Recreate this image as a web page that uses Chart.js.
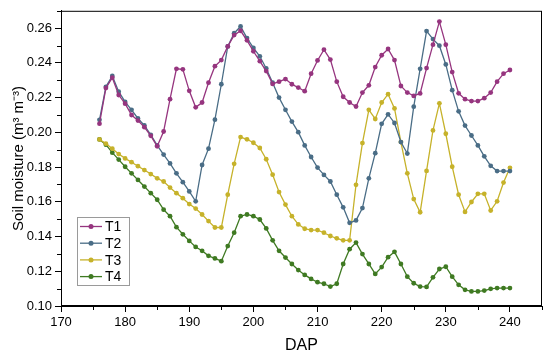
<!DOCTYPE html>
<html>
<head>
<meta charset="utf-8">
<script src="https://cdn.jsdelivr.net/npm/chart.js@4.4.0/dist/chart.umd.min.js"></script>
<style>
  html, body { margin: 0; padding: 0; background: #fff; }
</style>
</head>
<body>
<canvas id="moistureChart" width="550" height="358"></canvas>
<script>
// DAP (days after planting), one reading a day
const days = [
  176, 177, 178, 179, 180, 181, 182, 183, 184, 185, 186, 187, 188, 189, 190,
  191, 192, 193, 194, 195, 196, 197, 198, 199, 200, 201, 202, 203, 204, 205,
  206, 207, 208, 209, 210, 211, 212, 213, 214, 215, 216, 217, 218, 219, 220,
  221, 222, 223, 224, 225, 226, 227, 228, 229, 230, 231, 232, 233, 234, 235,
  236, 237, 238, 239, 240,
];

const t1 = [
  0.205, 0.2255, 0.2315, 0.2215, 0.2165, 0.210, 0.2068, 0.203, 0.198, 0.192, 0.2005, 0.2191, 0.2366, 0.2363, 0.2239,
  0.2144, 0.2172, 0.2286, 0.2381, 0.2416, 0.2495, 0.256, 0.2585, 0.253, 0.2467, 0.241, 0.2353, 0.2279, 0.2292, 0.2307,
  0.2277, 0.2258, 0.2237, 0.2338, 0.2414, 0.2476, 0.2419, 0.2292, 0.2205, 0.2172, 0.2149, 0.2229, 0.2271, 0.2376, 0.2444,
  0.248, 0.2416, 0.2267, 0.2229, 0.221, 0.2224, 0.237, 0.2505, 0.2638, 0.2505, 0.2347, 0.2225, 0.2191, 0.218, 0.218,
  0.2197, 0.2229, 0.2292, 0.2338, 0.2359,
];
const t2 = [
  0.2072, 0.2262, 0.2325, 0.2234, 0.2175, 0.213, 0.208, 0.204, 0.1986, 0.1925, 0.1872, 0.1821, 0.1764, 0.1713, 0.166,
  0.1603, 0.1812, 0.1906, 0.2073, 0.2277, 0.2495, 0.2571, 0.261, 0.2543, 0.2486, 0.2438, 0.2368, 0.2286, 0.22, 0.213,
  0.2062, 0.2001, 0.1925, 0.1858, 0.1797, 0.1755, 0.1717, 0.1641, 0.1568, 0.1479, 0.1493, 0.1564, 0.1735, 0.188, 0.2049,
  0.2104, 0.2054, 0.1944, 0.1878, 0.2148, 0.2366, 0.2583, 0.2537, 0.2499, 0.2391, 0.2243, 0.2121, 0.2039, 0.1982, 0.1925,
  0.1862, 0.1807, 0.1777, 0.1777, 0.1777,
];
const t3 = [
  0.1959, 0.1935, 0.1906, 0.1875, 0.185, 0.1828, 0.1805, 0.1783, 0.176, 0.1735, 0.1717, 0.1682, 0.165, 0.1621, 0.1587,
  0.1561, 0.1527, 0.1489, 0.1452, 0.1452, 0.1641, 0.1819, 0.1973, 0.196, 0.194, 0.191, 0.1845, 0.1756, 0.1656, 0.1584,
  0.1517, 0.147, 0.1445, 0.1437, 0.1437, 0.1422, 0.1403, 0.139, 0.1378, 0.1378, 0.1698, 0.1938, 0.213, 0.2077, 0.2172,
  0.222, 0.2138, 0.1944, 0.1764, 0.1616, 0.154, 0.1778, 0.2011, 0.2167, 0.1992, 0.1802, 0.1641, 0.1542, 0.1599, 0.1646,
  0.1646, 0.155, 0.1603, 0.1711, 0.1796,
];
const t4 = [
  0.1959, 0.1929, 0.1883, 0.1843, 0.1802, 0.1764, 0.1726, 0.1688, 0.165, 0.1612, 0.1555, 0.1517, 0.1454, 0.1413, 0.1375,
  0.134, 0.1318, 0.1289, 0.1274, 0.1258, 0.1345, 0.1422, 0.1517, 0.1527, 0.1517, 0.1498, 0.1447, 0.1378, 0.1318, 0.1279,
  0.1242, 0.1207, 0.1179, 0.1156, 0.1137, 0.1128, 0.1112, 0.1128, 0.1242, 0.1327, 0.1365, 0.1299, 0.1242, 0.1185, 0.1224,
  0.1281, 0.1312, 0.1242, 0.1169, 0.1131, 0.1112, 0.111, 0.1165, 0.1213, 0.1226, 0.1169, 0.1122, 0.1093, 0.1084, 0.1084,
  0.1089, 0.1099, 0.1103, 0.1103, 0.1103,
];

const seriesNames = ["T1", "T2", "T3", "T4"];
const seriesValues = [t1, t2, t3, t4];
const seriesColors = ["#96357f", "#4a6d86", "#c6b22a", "#3f7a22"];

const xTickValues = [170, 180, 190, 200, 210, 220, 230, 240];
const yTickValues = [0.10, 0.12, 0.14, 0.16, 0.18, 0.20, 0.22, 0.24, 0.26];

const FONT = "'Liberation Sans', Arial, sans-serif";

// Origin-style frame, minor ticks and an inset legend
const framePlugin = {
  id: "frame",
  afterDraw(chart) {
    const { ctx, chartArea: a, scales } = chart;
    ctx.save();
    ctx.strokeStyle = "#000";
    ctx.lineWidth = 1;
    ctx.strokeRect(a.left + 0.5, a.top + 0.5, a.right - a.left - 1, a.bottom - a.top - 1);

    // minor ticks
    ctx.beginPath();
    for (let v = 175; v <= 245; v += 10) {
      const x = Math.round(scales.x.getPixelForValue(v)) + 0.5;
      ctx.moveTo(x, a.bottom);
      ctx.lineTo(x, a.bottom + 4);
    }
    for (let k = 11; k <= 27; k += 2) {
      const y = Math.round(scales.y.getPixelForValue(k / 100)) + 0.5;
      ctx.moveTo(a.left, y);
      ctx.lineTo(a.left - 4, y);
    }
    ctx.stroke();

    // legend
    const lx = 77, ly = 217, lw = 52, lh = 68;
    ctx.fillStyle = "#fff";
    ctx.fillRect(lx, ly, lw, lh);
    ctx.strokeStyle = "#9a9a9a";
    ctx.strokeRect(lx + 0.5, ly + 0.5, lw, lh);
    ctx.font = "14px " + FONT;
    ctx.textBaseline = "middle";
    seriesNames.forEach((name, i) => {
      const y = ly + 9.5 + i * 16.7;
      ctx.strokeStyle = seriesColors[i];
      ctx.lineWidth = 1.3;
      ctx.beginPath();
      ctx.moveTo(lx + 3, y);
      ctx.lineTo(lx + 25, y);
      ctx.stroke();
      ctx.fillStyle = seriesColors[i];
      ctx.beginPath();
      ctx.arc(lx + 14, y, 2.5, 0, Math.PI * 2);
      ctx.fill();
      ctx.fillStyle = "#000";
      ctx.fillText(name, lx + 28, y + 1);
    });
    ctx.restore();
  },
};

const ctx = document.getElementById("moistureChart").getContext("2d");
const moistureChart = new Chart(ctx, {
  type: "line",
  data: {
    datasets: seriesNames.map((name, i) => ({
      label: name,
      data: days.map((d, j) => ({ x: d, y: seriesValues[i][j] })),
      borderColor: seriesColors[i],
      backgroundColor: seriesColors[i],
      borderWidth: 1.3,
      pointRadius: 2.4,
      pointBorderWidth: 0,
      tension: 0,
    })),
  },
  options: {
    responsive: false,
    animation: false,
    layout: { padding: { top: 8, right: 8, left: 0, bottom: 0 } },
    plugins: {
      legend: { display: false },
      tooltip: { enabled: false },
    },
    scales: {
      x: {
        type: "linear",
        min: 170,
        max: 245,
        afterBuildTicks: (scale) => {
          scale.ticks = xTickValues.map((v) => ({ value: v }));
        },
        afterFit: (scale) => {
          scale.height = 52;
        },
        grid: { drawOnChartArea: false, drawTicks: true, tickLength: 6, color: "#000" },
        border: { display: true, color: "#000" },
        ticks: { color: "#000", padding: 3, font: { family: FONT, size: 13 }, maxRotation: 0 },
        title: {
          display: true,
          text: "DAP",
          color: "#000",
          font: { family: FONT, size: 16 },
          padding: { top: 0, bottom: 3 },
        },
      },
      y: {
        min: 0.10,
        max: 0.27,
        afterBuildTicks: (scale) => {
          scale.ticks = yTickValues.map((v) => ({ value: v }));
        },
        afterFit: (scale) => {
          scale.width = 61;
        },
        grid: { drawOnChartArea: false, drawTicks: true, tickLength: 6, color: "#000" },
        border: { display: true, color: "#000" },
        ticks: {
          color: "#000",
          padding: 3,
          font: { family: FONT, size: 13 },
          callback: (v) => v.toFixed(2),
        },
        title: {
          display: true,
          text: "Soil moisture (m³ m⁻³)",
          color: "#000",
          font: { family: FONT, size: 15 },
          padding: { top: 10, bottom: 0 },
        },
      },
    },
  },
  plugins: [framePlugin],
});
</script>
</body>
</html>
